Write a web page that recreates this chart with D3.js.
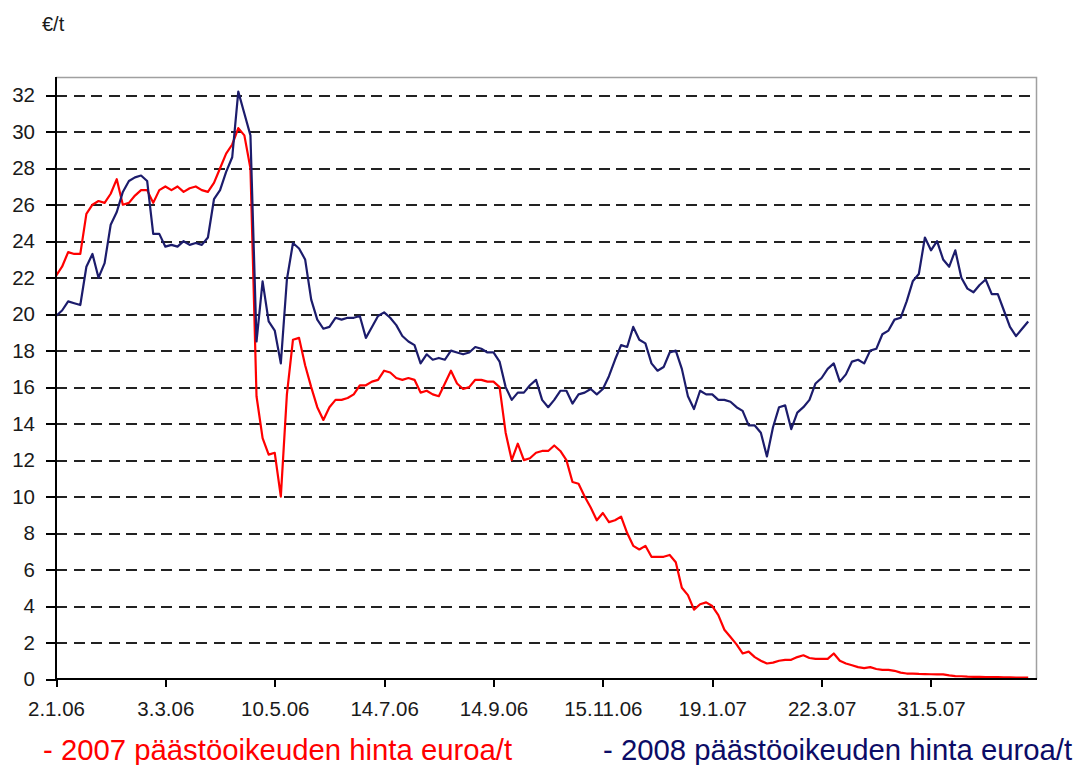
<!DOCTYPE html>
<meta charset="utf-8">
<style>
body { margin: 0; background: #fff; }
text { font-family: "Liberation Sans", Arial, sans-serif; }
.axis path, .axis line { stroke: #000; stroke-width: 2; shape-rendering: crispEdges; }
.axis text { fill: #1a1a1a; font-size: 20.5px; }
.grid line { stroke: #222; stroke-width: 2; stroke-dasharray: 11 6.5; shape-rendering: crispEdges; }
.grid path { display: none; }
</style>
<body>
<script src="https://cdn.jsdelivr.net/npm/d3@7"></script>
<script>

// x categories: one value every ~1.5 weeks, tick label every 18 points
var tickLabels = ["2.1.06", "3.3.06", "10.5.06", "14.7.06", "14.9.06", "15.11.06", "19.1.07", "22.3.07", "31.5.07"];
var tickEvery = 18;

// 2007 allowance price, €/t
var price2007 = [
  22.1, 22.6, 23.4, 23.3, 23.3, 25.5, 26.0, 26.2, 26.1, 26.6,
  27.4, 26.0, 26.1, 26.5, 26.8, 26.8, 26.1, 26.8, 27.0, 26.8,
  27.0, 26.7, 26.9, 27.0, 26.8, 26.7, 27.2, 28.0, 28.8, 29.3,
  30.2, 29.8, 28.0, 15.5, 13.2, 12.3, 12.4, 10.0, 15.6, 18.6,
  18.7, 17.2, 16.0, 14.9, 14.2, 14.9, 15.3, 15.3, 15.4, 15.6,
  16.1, 16.1, 16.3, 16.4, 16.9, 16.8, 16.5, 16.4, 16.5, 16.4,
  15.7, 15.8, 15.6, 15.5, 16.2, 16.9, 16.2, 15.9, 16.0, 16.4,
  16.4, 16.3, 16.3, 16.0, 13.5, 12.0, 12.9, 12.0, 12.1, 12.4,
  12.5, 12.5, 12.8, 12.5, 12.0, 10.8, 10.7, 10.0, 9.4, 8.7,
  9.1, 8.6, 8.7, 8.9, 8.0, 7.3, 7.1, 7.3, 6.7, 6.7,
  6.7, 6.8, 6.4, 5.0, 4.6, 3.8, 4.1, 4.2, 4.0, 3.5,
  2.7, 2.3, 1.9, 1.4, 1.5, 1.2, 1.0, 0.85, 0.9, 1.0,
  1.05, 1.05, 1.2, 1.3, 1.15, 1.1, 1.1, 1.1, 1.4, 1.0,
  0.85, 0.75, 0.65, 0.6, 0.65, 0.55, 0.5, 0.5, 0.45, 0.35,
  0.3, 0.3, 0.28, 0.27, 0.26, 0.25, 0.25, 0.2, 0.16, 0.15,
  0.13, 0.12, 0.12, 0.1, 0.1, 0.1, 0.09, 0.09, 0.08, 0.08,
  0.08
];

// 2008 allowance price, €/t
var price2008 = [
  19.9, 20.2, 20.7, 20.6, 20.5, 22.6, 23.3, 22.0, 22.8, 24.9,
  25.6, 26.7, 27.3, 27.5, 27.6, 27.3, 24.4, 24.4, 23.7, 23.8,
  23.7, 24.0, 23.8, 23.9, 23.8, 24.2, 26.3, 26.8, 27.8, 28.6,
  32.2, 31.0, 29.8, 18.5, 21.8, 19.6, 19.1, 17.3, 21.9, 23.9,
  23.6, 23.0, 20.8, 19.7, 19.2, 19.3, 19.8, 19.7, 19.8, 19.8,
  19.9, 18.7, 19.3, 19.9, 20.1, 19.8, 19.4, 18.8, 18.5, 18.3,
  17.3, 17.8, 17.5, 17.6, 17.5, 18.0, 17.9, 17.8, 17.9, 18.2,
  18.1, 17.9, 17.9, 17.4, 16.0, 15.3, 15.7, 15.7, 16.1, 16.4,
  15.3, 14.9, 15.3, 15.8, 15.8, 15.1, 15.6, 15.7, 15.9, 15.6,
  15.9, 16.6, 17.5, 18.3, 18.2, 19.3, 18.6, 18.4, 17.3, 16.9,
  17.1, 17.9, 18.0, 17.0, 15.5, 14.8, 15.8, 15.6, 15.6, 15.3,
  15.3, 15.2, 14.9, 14.7, 13.9, 13.9, 13.5, 12.2, 13.8, 14.9,
  15.0, 13.7, 14.6, 14.9, 15.3, 16.2, 16.5, 17.0, 17.3, 16.3,
  16.7, 17.4, 17.5, 17.3, 18.0, 18.1, 18.9, 19.1, 19.7, 19.8,
  20.7, 21.8, 22.2, 24.2, 23.5, 24.0, 23.0, 22.6, 23.5, 22.0,
  21.4, 21.2, 21.6, 21.9, 21.1, 21.1, 20.2, 19.3, 18.8, 19.2,
  19.6
];

var seriesNames = ["- 2007 päästöoikeuden hinta euroa/t", "- 2008 päästöoikeuden hinta euroa/t"];
var seriesColors = ["#ff0000", "#1c1c6c"];
var legendColors = ["#ff0000", "#0c0c66"];

var margin = {top: 77, right: 38, bottom: 86, left: 56},
    width = 1075 - margin.left - margin.right,
    height = 765 - margin.top - margin.bottom;

var x = d3.scaleLinear()
    .domain([0, price2007.length - 1])
    .range([0, 972.2]);

var y = d3.scaleLinear()
    .domain([0, 33])
    .range([height, 0]);

var svg = d3.select("body").append("svg")
    .attr("width", 1075)
    .attr("height", 765);

var g = svg.append("g")
    .attr("transform", "translate(" + margin.left + "," + margin.top + ")");

var yTicks = d3.range(0, 33, 2);

// dashed gridlines
g.append("g")
    .attr("class", "grid")
    .call(d3.axisLeft(y).tickValues(yTicks.filter(function(d) { return d > 0; }))
      .tickSize(-width).tickFormat(""));

// top and right frame
g.append("path")
    .attr("d", "M0,0.5H" + (width - 0.5) + "V" + height)
    .attr("fill", "none")
    .attr("stroke", "#a0a0a0")
    .attr("stroke-width", 1.5);

var line = d3.line()
    .x(function(d, i) { return x(i); })
    .y(function(d) { return y(d); });

[price2007, price2008].forEach(function(s, k) {
  g.append("path")
      .datum(s)
      .attr("fill", "none")
      .attr("stroke", seriesColors[k])
      .attr("stroke-width", 2.2)
      .attr("stroke-linejoin", "round")
      .attr("d", line);
});

g.append("g")
    .attr("class", "axis")
    .call(d3.axisLeft(y).tickValues(yTicks).tickSize(10).tickPadding(11).tickSizeOuter(0))
  .select(".domain")
    .attr("d", "M0,0V" + height);

g.append("g")
    .attr("class", "axis")
    .attr("transform", "translate(0," + height + ")")
    .call(d3.axisBottom(x)
      .tickValues(tickLabels.map(function(d, i) { return i * tickEvery; }))
      .tickFormat(function(d) { return tickLabels[d / tickEvery]; })
      .tickSize(8).tickPadding(14).tickSizeOuter(0))
  .select(".domain")
    .attr("d", "M0,0H" + width);

svg.append("text")
    .attr("x", 42)
    .attr("y", 31)
    .style("font-size", "20px")
    .style("fill", "#1a1a1a")
    .text("€/t");

svg.selectAll(".legend")
    .data(seriesNames)
  .enter().append("text")
    .attr("class", "legend")
    .attr("x", function(d, i) { return i ? 603 : 43; })
    .attr("y", 760)
    .style("font-size", "29.3px")
    .style("fill", function(d, i) { return legendColors[i]; })
    .text(function(d) { return d; });

</script>
